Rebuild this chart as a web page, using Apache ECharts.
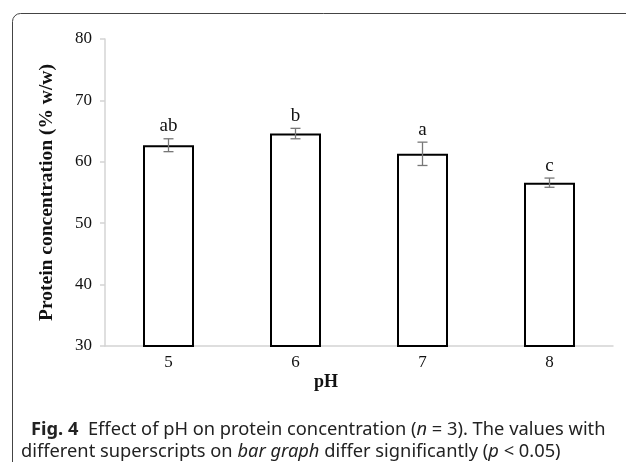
<!DOCTYPE html>
<html>
<head>
<meta charset="utf-8">
<script src="https://cdn.jsdelivr.net/npm/echarts@6/dist/echarts.min.js"></script>
<style>
  html, body { margin: 0; padding: 0; background: #fff; }
  #chart { width: 626px; height: 462px; }
</style>
</head>
<body>
<div id="chart"></div>
<script>
// pH values and mean protein concentration with error (SD)
var phLevels = ['5', '6', '7', '8'];
var proteinMean = [62.7, 64.6, 61.3, 56.6];
var proteinErr = [1.05, 0.85, 1.9, 0.75];
var letters = ['ab', 'b', 'a', 'c'];
var yTicks = { min: 30, max: 80, step: 10 };

var serif = '"Liberation Serif", "Times New Roman", serif';
var sans = '"Noto Sans", "Open Sans", sans-serif';
var capSize = 18.3;

var myChart = echarts.init(document.getElementById('chart'));

function captionLine(x, y, text) {
    return {
        type: 'text',
        x: x,
        y: y,
        style: {
            text: text,
            fill: '#222',
            fontFamily: sans,
            fontSize: capSize,
            verticalAlign: 'middle',
            rich: {
                b: { fontWeight: 'bold', fontFamily: sans, fontSize: capSize, fill: '#222' },
                i: { fontStyle: 'italic', fontFamily: sans, fontSize: capSize, fill: '#222' }
            }
        }
    };
}

var option = {
    animation: false,
    grid: {
        left: 105,
        right: 13,
        top: 39,
        bottom: 116
    },
    xAxis: {
        type: 'category',
        data: phLevels,
        axisLine: { lineStyle: { color: '#d4d4d4', width: 1.5 } },
        axisTick: { show: false },
        axisLabel: {
            color: '#111',
            fontFamily: serif,
            fontSize: 17,
            margin: 8
        }
    },
    yAxis: {
        type: 'value',
        min: yTicks.min,
        max: yTicks.max,
        interval: yTicks.step,
        name: 'Protein concentration (% w/w)',
        nameLocation: 'middle',
        nameGap: 48,
        nameTextStyle: {
            color: '#111',
            fontFamily: serif,
            fontSize: 19.5,
            fontWeight: 'bold'
        },
        axisLine: { show: true, lineStyle: { color: '#d4d4d4', width: 1.5 } },
        axisTick: { show: true, length: 5, lineStyle: { color: '#d4d4d4', width: 1.5 } },
        splitLine: { show: false },
        axisLabel: {
            color: '#111',
            fontFamily: serif,
            fontSize: 17,
            margin: 13
        }
    },
    series: [
        {
            type: 'bar',
            data: proteinMean,
            barWidth: 51,
            itemStyle: {
                color: '#fff',
                borderColor: '#000',
                borderWidth: 2
            }
        },
        {
            type: 'custom',
            data: proteinMean.map(function (m, i) { return [i, m - proteinErr[i], m + proteinErr[i]]; }),
            renderItem: function (params, api) {
                var x = api.value(0);
                var lo = api.coord([x, api.value(1)]);
                var hi = api.coord([x, api.value(2)]);
                var w = 5;
                var st = { stroke: '#777', lineWidth: 1.3 };
                return {
                    type: 'group',
                    children: [
                        { type: 'line', shape: { x1: lo[0], y1: lo[1], x2: hi[0], y2: hi[1] }, style: st },
                        { type: 'line', shape: { x1: lo[0] - w, y1: lo[1], x2: lo[0] + w, y2: lo[1] }, style: st },
                        { type: 'line', shape: { x1: hi[0] - w, y1: hi[1], x2: hi[0] + w, y2: hi[1] }, style: st },
                        {
                            type: 'text',
                            x: hi[0],
                            y: hi[1] - 3,
                            style: {
                                text: letters[params.dataIndex],
                                fill: '#111',
                                font: '19px ' + serif,
                                align: 'center',
                                verticalAlign: 'bottom'
                            }
                        }
                    ]
                };
            },
            z: 5
        }
    ],
    graphic: [
        {
            type: 'rect',
            shape: { x: 12.5, y: 13.5, width: 700, height: 600, r: 8 },
            style: { fill: 'none', stroke: '#444', lineWidth: 1 },
            silent: true
        },
        {
            type: 'text',
            left: 314,
            top: 373,
            style: {
                text: 'pH',
                fill: '#111',
                font: 'bold 18px ' + serif
            }
        },
        captionLine(31, 430, '{b|Fig. 4}  Effect of pH on protein concentration ({i|n} = 3). The values with'),
        captionLine(21, 452, 'different superscripts on {i|bar graph} differ significantly ({i|p} < 0.05)')
    ]
};

myChart.setOption(option);

window.addEventListener('resize', function () {
    myChart.resize();
});
</script>
</body>
</html>
